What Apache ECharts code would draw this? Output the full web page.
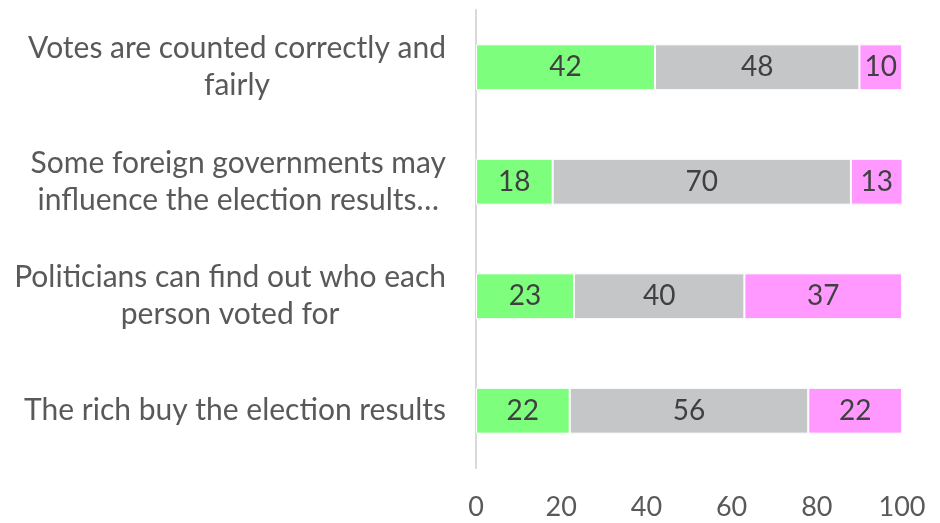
<!DOCTYPE html>
<html><head><meta charset="utf-8">
<script src="https://cdn.jsdelivr.net/npm/echarts@6/dist/echarts.min.js"></script>
<style>html,body{margin:0;padding:0;background:#fff}#c{width:940px;height:523px}</style>
</head><body><div id="c"></div>
<script>
const categories = [
  "Votes are counted correctly and\nfairly",
  "Some foreign governments may\ninfluence the election results…",
  "Politicians can find out who each\nperson voted for",
  "The rich buy the election results"
];
const seriesA = [42, 18, 23, 22];
const seriesB = [48, 70, 40, 56];
const seriesC = [10, 13, 37, 22];
const xTicks = [0, 20, 40, 60, 80, 100];

const FONT = "Lato, 'Open Sans', sans-serif";
function mk(name, data, color) {
  return {
    name, type: 'bar', stack: 'all', data, barWidth: '40%',
    itemStyle: { color, borderColor: '#fff', borderWidth: 1 },
    label: { show: true, position: 'inside', color: '#404040', fontSize: 28, fontFamily: FONT },
    emphasis: { disabled: true }
  };
}
const chart = echarts.init(document.getElementById('c'));
chart.setOption({
  animation: false,
  grid: { left: 476, right: 38, top: 10, bottom: 55 },
  xAxis: {
    type: 'value', min: xTicks[0], max: xTicks[xTicks.length - 1], interval: 20,
    axisLine: { show: false }, axisTick: { show: false }, splitLine: { show: false },
    axisLabel: { color: '#595959', fontSize: 27, fontFamily: FONT, margin: 26 }
  },
  yAxis: {
    type: 'category', data: categories.slice().reverse(),
    axisLine: { show: true, lineStyle: { color: '#d9d9d9', width: 2 } },
    axisTick: { show: false },
    axisLabel: {
      color: '#595959', fontSize: 30, fontFamily: FONT, margin: 30, lineHeight: 37, align: 'right',
      formatter: v => v.split('\n').map(l => '{c|' + l + '}').join('\n'),
      rich: { c: { align: 'center', color: '#595959', fontSize: 30, fontFamily: FONT, lineHeight: 37 } }
    }
  },
  series: [
    mk('A', seriesA.slice().reverse(), '#7dfe7d'),
    mk('B', seriesB.slice().reverse(), '#c5c6c8'),
    mk('C', seriesC.slice().reverse(), '#ff99ff')
  ]
});
</script></body></html>
